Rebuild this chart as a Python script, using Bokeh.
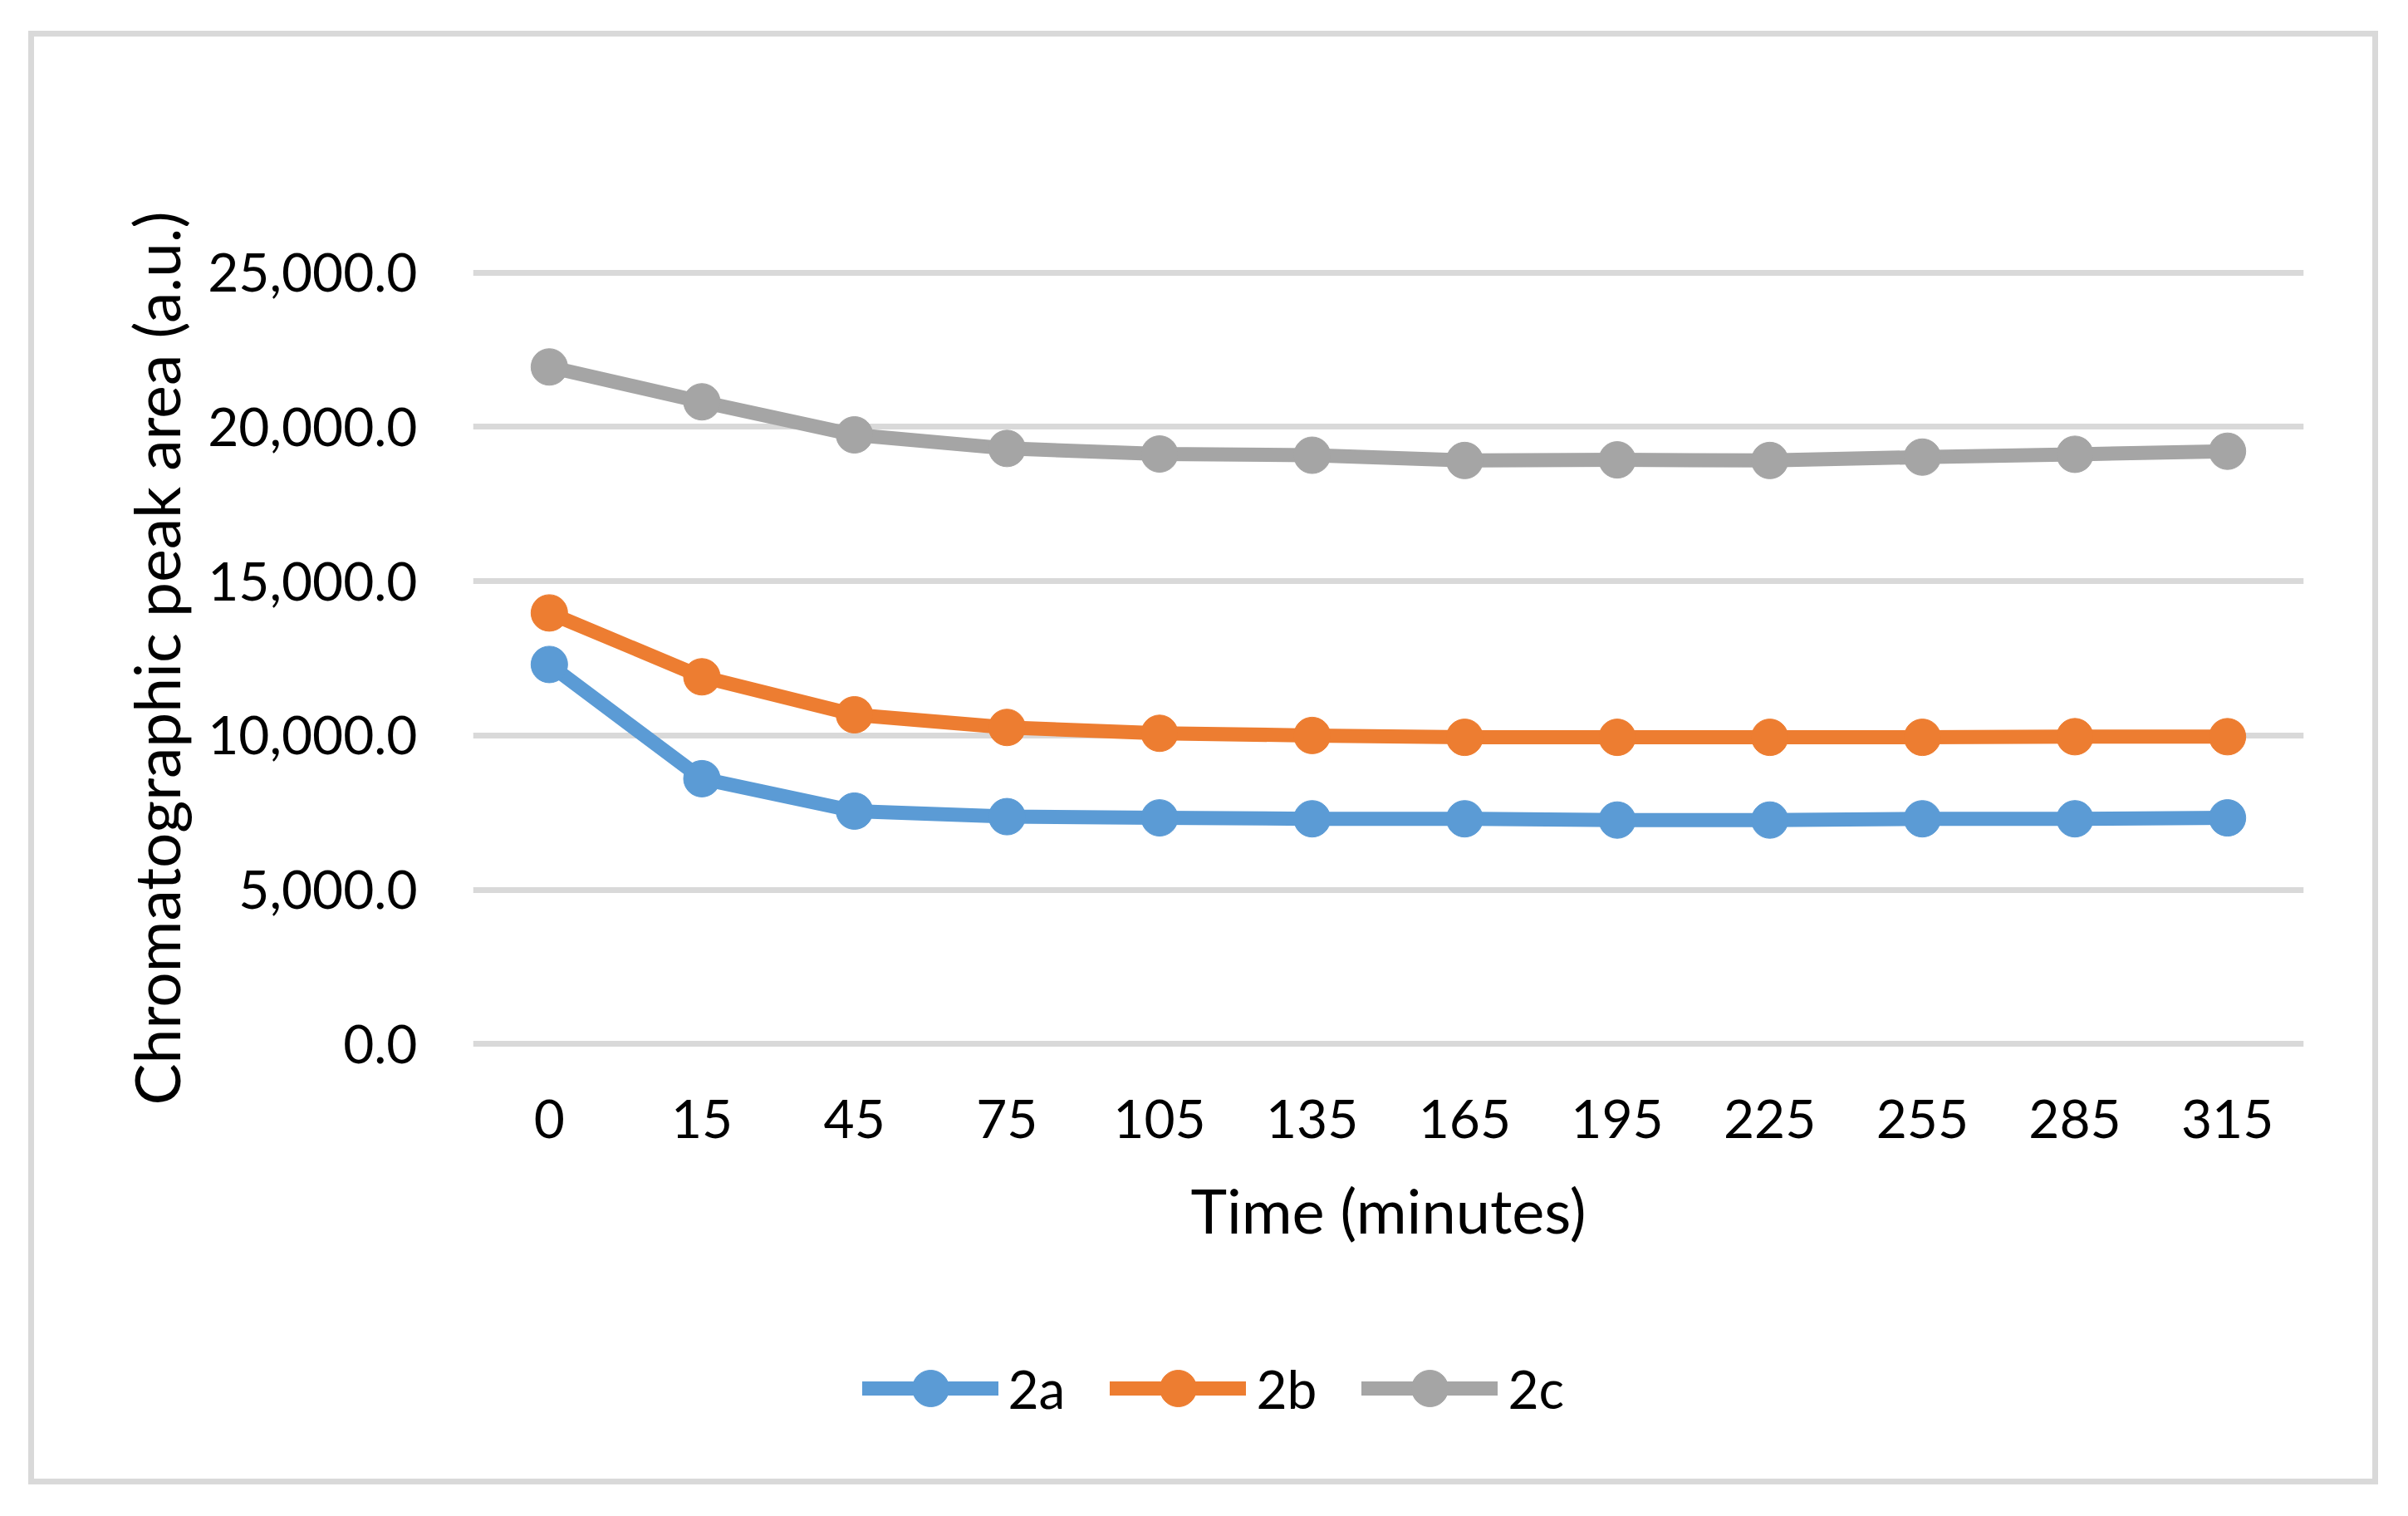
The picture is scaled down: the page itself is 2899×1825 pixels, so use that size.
from bokeh.plotting import figure
from bokeh.models import (Legend, LegendItem, FixedTicker,
                          NumeralTickFormatter, Range1d, FactorRange)
from bokeh.embed import file_html
from bokeh.resources import INLINE

# ---- data ----
times = ["0", "15", "45", "75", "105", "135", "165", "195", "225", "255", "285", "315"]
series_2a = [12300, 8600, 7550, 7370, 7330, 7300, 7300, 7260, 7260, 7300, 7300, 7330]
series_2b = [13970, 11900, 10670, 10260, 10070, 10000, 9940, 9940, 9940, 9940, 9960, 9960]
series_2c = [21940, 20810, 19740, 19300, 19120, 19080, 18910, 18930, 18910, 19020, 19110, 19210]
series_names = ["2a", "2b", "2c"]
y_ticks = [0, 5000, 10000, 15000, 20000, 25000]

colors = ["#5b9bd5", "#ed7d31", "#a5a5a5"]
FONT = "Lato"

p = figure(x_range=FactorRange(factors=times), y_range=Range1d(-500, 25500),
           frame_width=2204, frame_height=966,
           min_border_left=569, min_border_right=124,
           min_border_top=309, min_border_bottom=547,
           output_backend="svg", toolbar_location=None)

# transparent canvas margin so the outer light-grey chart border
# (drawn as CSS background of the plot element) shows through
p.border_fill_alpha = 0
p.background_fill_color = "white"
g = "linear-gradient(#d9d9d9,#d9d9d9)"
p.styles = {
    "background": (f"{g} 34px 37px / 2829px 7px no-repeat, "
                   f"{g} 34px 1780px / 2829px 7px no-repeat, "
                   f"{g} 34px 37px / 7px 1750px no-repeat, "
                   f"{g} 2856px 37px / 7px 1750px no-repeat, white"),
}

p.outline_line_color = None
p.xgrid.grid_line_color = None
p.ygrid.grid_line_color = "#d9d9d9"
p.ygrid.grid_line_width = 7
p.yaxis.ticker = FixedTicker(ticks=y_ticks)
p.yaxis.formatter = NumeralTickFormatter(format="0,0.0")

for ax in (p.xaxis[0], p.yaxis[0]):
    ax.axis_line_color = None
    ax.major_tick_line_color = None
    ax.minor_tick_line_color = None
    ax.major_tick_in = 0
    ax.major_tick_out = 0
    ax.minor_tick_in = 0
    ax.minor_tick_out = 0
    ax.major_label_text_font = FONT
    ax.major_label_text_font_size = "64px"
    ax.major_label_text_color = "black"
    ax.axis_label_text_color = "black"
    ax.axis_label_text_font = FONT
    ax.axis_label_text_font_style = "normal"

p.xaxis.major_label_standoff = 48
p.xaxis.axis_label = "Time (minutes)"
p.xaxis.axis_label_text_font_size = "74px"
p.xaxis.axis_label_standoff = 39

p.yaxis.major_label_standoff = 67
p.yaxis.axis_label = "Chromatographic peak area (a.u.)"
p.yaxis.axis_label_text_font_size = "75px"
p.yaxis.axis_label_standoff = 14

items = []
for name, vals, c in zip(series_names, [series_2a, series_2b, series_2c], colors):
    lr = p.line(x=times, y=vals, line_color=c, line_width=17,
                line_join="round", line_cap="round")
    sr = p.scatter(x=times, y=vals, size=44, fill_color=c, line_color=c)
    items.append(LegendItem(label=name, renderers=[lr, sr]))

legend = Legend(items=items, orientation="horizontal", location=(468.5, 631),
                glyph_width=164, glyph_height=110, label_standoff=12,
                spacing=54, padding=0, margin=53,
                border_line_color=None, background_fill_alpha=0,
                label_text_font=FONT, label_text_font_size="64px",
                label_text_color="black")
p.add_layout(legend, "below")

open("out.html", "w").write(file_html(p, INLINE))
